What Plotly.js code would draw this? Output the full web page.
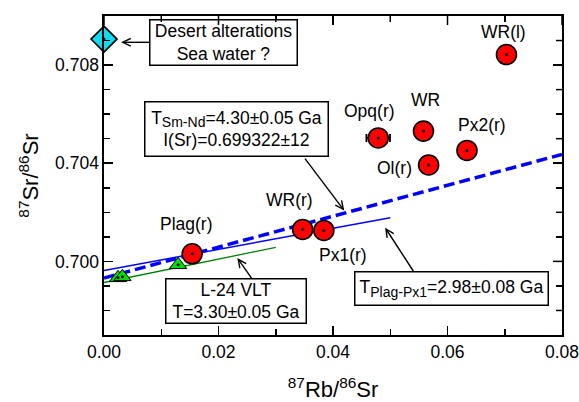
<!DOCTYPE html>
<html>
<head>
<meta charset="utf-8">
<script src="https://cdn.plot.ly/plotly-3.0.1.min.js"></script>
<style>html,body{margin:0;padding:0;background:#fff;}#chart{width:579px;height:402px;position:relative;}</style>
</head>
<body>
<div id="chart"></div>
<script>
// ---- data ----
const sampleNames = ['WR(l)', 'Opq(r)', 'WR', 'Px2(r)', 'Ol(r)', 'WR(r)', 'Px1(r)', 'Plag(r)'];
const sampleRbSr  = [0.0703, 0.0479, 0.0558, 0.0634, 0.0567, 0.0347, 0.0384, 0.0154];
const sampleSrSr  = [0.70843, 0.70503, 0.70531, 0.70452, 0.70393, 0.70130, 0.70126, 0.70031];
const sampleRbErr = [0, 0.00206, 0, 0, 0, 0, 0, 0];

const desertRbSr = [0.0];
const desertSrSr = [0.70906];

const vltRbSr = [0.00245, 0.00322, 0.01294];
const vltSrSr = [0.69933, 0.69937, 0.69986];

const isoSmNdX = [0, 0.08],  isoSmNdY = [0.699322, 0.70436];
const isoPlagPx1X = [0, 0.05], isoPlagPx1Y = [0.69963, 0.70178];
const isoVltX = [0, 0.03], isoVltY = [0.69914, 0.70057];

const xTickVals = [0, 0.02, 0.04, 0.06, 0.08];
const xTickText = ['0.00', '0.02', '0.04', '0.06', '0.08'];
const xMinorVals = [0.01, 0.03, 0.05, 0.07];
const yTickVals = [0.700, 0.704, 0.708];
const yTickText = ['0.700', '0.704', '0.708'];
const yMinorVals = [0.698, 0.699, 0.701, 0.702, 0.703, 0.705, 0.706, 0.707, 0.709];

// ---- layout helpers (pixel -> paper) ----
const L = 104, T = 16, W = 458, H = 319;
const px = p => (p - L) / W;
const py = p => (T + H - p) / H;
const FONT = 'Arial, "Liberation Sans", sans-serif';

function arrow(x1, y1, x2, y2) {
  const ang = Math.atan2(y2 - y1, x2 - x1);
  const len = 9, half = 0.45;
  const a1 = ang + Math.PI - half, a2 = ang + Math.PI + half;
  const hx1 = x2 + len * Math.cos(a1), hy1 = y2 + len * Math.sin(a1);
  const hx2 = x2 + len * Math.cos(a2), hy2 = y2 + len * Math.sin(a2);
  return [
    {type: 'line', xref: 'paper', yref: 'paper', x0: px(x1), y0: py(y1), x1: px(x2), y1: py(y2),
     line: {color: 'black', width: 1.4}},
    {type: 'path', xref: 'paper', yref: 'paper',
     path: 'M' + px(hx1) + ',' + py(hy1) + ' L' + px(x2) + ',' + py(y2) + ' L' + px(hx2) + ',' + py(hy2),
     line: {color: 'black', width: 1.4}}
  ];
}

const traces = [
  {x: isoVltX, y: isoVltY, mode: 'lines', line: {color: '#008000', width: 1.3}, hoverinfo: 'skip'},
  {x: isoPlagPx1X, y: isoPlagPx1Y, mode: 'lines', line: {color: '#0000ff', width: 1.5}, hoverinfo: 'skip'},
  {x: isoSmNdX, y: isoSmNdY, mode: 'lines', line: {color: '#0000ff', width: 3.5, dash: '11px,5px'}, hoverinfo: 'skip'},
  {x: vltRbSr, y: vltSrSr, mode: 'markers', cliponaxis: false,
   marker: {symbol: 'triangle-up', size: 15, color: '#00dd00', line: {color: 'black', width: 1}}},
  {x: sampleRbSr, y: sampleSrSr, text: sampleNames, mode: 'markers', cliponaxis: false,
   error_x: {type: 'data', array: sampleRbErr, color: 'black', thickness: 1.8, width: 4},
   marker: {symbol: 'circle', size: 20, color: '#ff0000', line: {color: 'black', width: 1.6}}},
  {x: desertRbSr, y: desertSrSr, mode: 'markers', cliponaxis: false,
   marker: {symbol: 'diamond', size: 20, color: '#12dcec', line: {color: 'black', width: 1.6}}},
  {x: sampleRbSr.concat(desertRbSr, vltRbSr), y: sampleSrSr.concat(desertSrSr, vltSrSr),
   mode: 'markers', cliponaxis: false, hoverinfo: 'skip',
   marker: {symbol: 'circle', size: 3, color: 'black'}}
];

const labelPos = {
  'WR(l)': [503.3, 31.7], 'Opq(r)': [369, 111], 'WR': [425.7, 100], 'Px2(r)': [482, 125.3],
  'Ol(r)': [394.3, 168.3], 'WR(r)': [289, 200], 'Px1(r)': [343.3, 255], 'Plag(r)': [186.7, 224.3]
};
const annotations = sampleNames.map(n => ({
  xref: 'paper', yref: 'paper', x: px(labelPos[n][0]), y: py(labelPos[n][1]),
  xanchor: 'center', yanchor: 'middle', text: n, showarrow: false,
  font: {family: FONT, size: 17.5, color: 'black'}
}));

function box(cx, cy, w, h, text) {
  return {xref: 'paper', yref: 'paper', x: px(cx), y: py(cy), xanchor: 'center', yanchor: 'middle',
    text: text, showarrow: false, width: w, height: h, align: 'center', valign: 'middle',
    bgcolor: 'white', bordercolor: 'black', borderwidth: 1.5, borderpad: 0,
    font: {family: FONT, size: 17.5, color: 'black'}};
}
const SUB = s => '<sub><span style="font-size:14px">' + s + '</span></sub>';
annotations.push(box(223.3, 42.2, 146, 44, 'Desert alterations<br>Sea water ?'));
annotations.push(box(236.7, 129, 182, 53, 'T' + SUB('Sm-Nd') + '=4.30±0.05 Ga<br>I(Sr)=0.699322±12'));
annotations.push(box(236, 301, 139, 43, 'L-24 VLT<br>T=3.30±0.05 Ga'));
annotations.push(box(451.7, 288.5, 192, 32, 'T' + SUB('Plag-Px1') + '=2.98±0.08 Ga'));

const shapes = [].concat(
  arrow(149, 42.3, 122.7, 42.3),
  arrow(305, 158.7, 343.3, 209.3),
  arrow(251.7, 278.3, 238.3, 259.3),
  arrow(413.3, 271, 386, 229)
);

const axisCommon = {
  showline: true, linecolor: 'black', linewidth: 1.6, mirror: 'allticks',
  ticks: 'inside', ticklen: 9, tickwidth: 1.5, tickcolor: 'black',
  showgrid: false, zeroline: false, tickmode: 'array', ticklabeloverflow: 'allow',
  tickfont: {family: FONT, size: 17.5, color: 'black'}
};

const layout = {
  width: 579, height: 402,
  margin: {l: L, r: 579 - L - W, t: T, b: 402 - T - H},
  paper_bgcolor: 'white', plot_bgcolor: 'white',
  showlegend: false,
  font: {family: FONT, color: 'black'},
  xaxis: Object.assign({}, axisCommon, {
    range: [0, 0.08], tickvals: xTickVals, ticktext: xTickText,
    minor: {tickvals: xMinorVals, ticks: 'inside', ticklen: 6, tickwidth: 1.5, tickcolor: 'black'},
    title: {text: '<sup>87</sup>Rb/<sup>86</sup>Sr', font: {family: FONT, size: 22, color: 'black'}, standoff: 30}
  }),
  yaxis: Object.assign({}, axisCommon, {
    range: [0.697, 0.710], tickvals: yTickVals, ticktext: yTickText,
    minor: {tickvals: yMinorVals, ticks: 'inside', ticklen: 6, tickwidth: 1.5, tickcolor: 'black'},
    title: {text: '<sup>87</sup>Sr/<sup>86</sup>Sr', font: {family: FONT, size: 22, color: 'black'}, standoff: 10}
  }),
  annotations: annotations,
  shapes: shapes
};

Plotly.newPlot('chart', traces, layout, {displayModeBar: false, staticPlot: true}).then(function(gd) {
  // overlay for the mirrored frame (top / right) positioned from the library's own axis scales
  const xa = gd._fullLayout.xaxis, ya = gd._fullLayout.yaxis;
  const NS = 'http://www.w3.org/2000/svg';
  const ov = document.createElementNS(NS, 'svg');
  ov.setAttribute('width', 579); ov.setAttribute('height', 402);
  ov.style.position = 'absolute'; ov.style.left = '0'; ov.style.top = '0'; ov.style.pointerEvents = 'none';
  const x0 = xa._offset, x1 = xa._offset + xa._length, y0 = ya._offset, y1 = ya._offset + ya._length;
  const seg = (a, b, c, d, w) => {
    const l = document.createElementNS(NS, 'line');
    l.setAttribute('x1', a); l.setAttribute('y1', b); l.setAttribute('x2', c); l.setAttribute('y2', d);
    l.setAttribute('stroke', 'black'); l.setAttribute('stroke-width', w);
    ov.appendChild(l);
  };
  seg(x0 - 1.6, y0 - 0.8, x1 + 1.6, y0 - 0.8, 1.6);
  seg(x1 + 0.8, y0 - 1.6, x1 + 0.8, y1 + 1.6, 1.6);
  xTickVals.forEach(v => { const X = x0 + xa.l2p(v); seg(X, y0, X, y0 + 9, 1.5); });
  xMinorVals.forEach(v => { const X = x0 + xa.l2p(v); seg(X, y0, X, y0 + 6, 1.5); });
  yTickVals.forEach(v => { const Y = y0 + ya.l2p(v); seg(x1, Y, x1 - 9, Y, 1.5); });
  yMinorVals.forEach(v => { const Y = y0 + ya.l2p(v); seg(x1, Y, x1 - 6, Y, 1.5); });
  document.getElementById('chart').appendChild(ov);
});
</script>
</body>
</html>
